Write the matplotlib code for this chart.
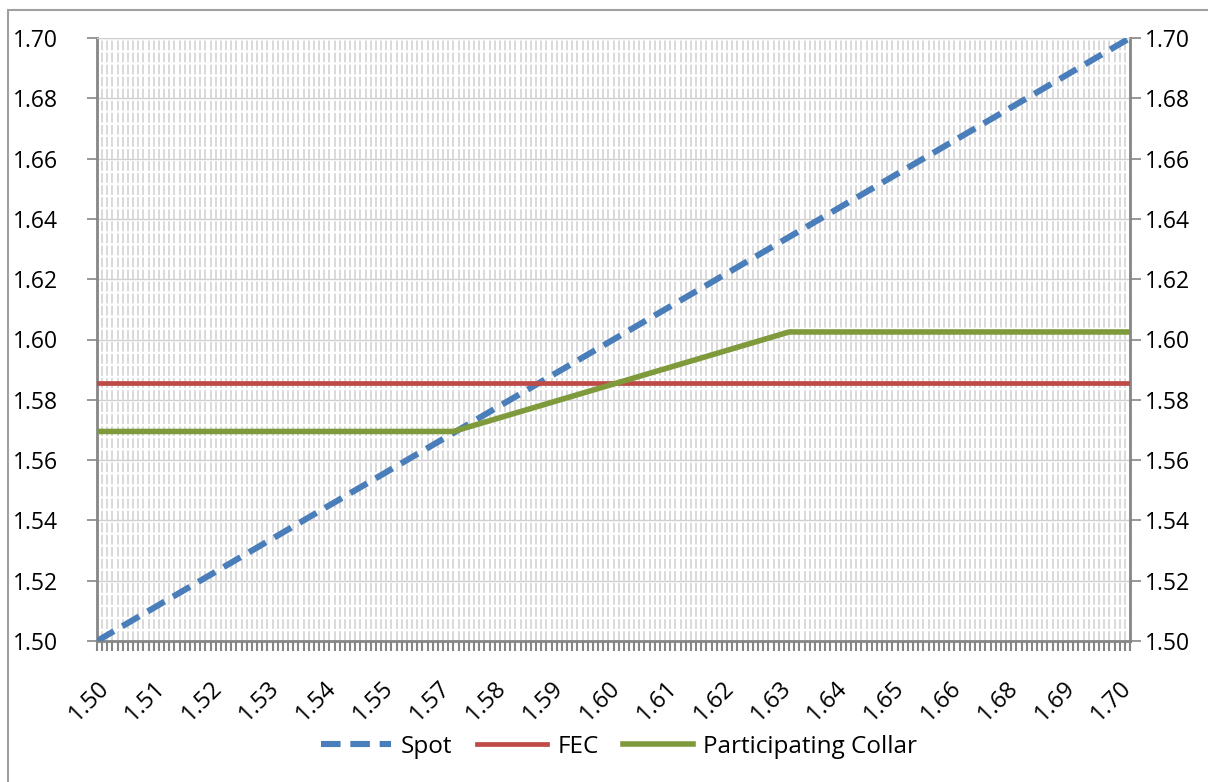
import matplotlib.pyplot as plt
import numpy as np
from matplotlib.patches import Rectangle

# data
categories = np.round(np.arange(1.500, 1.7005, 0.001), 3)  # category axis, step 0.001
spot_x = [1.500, 1.700]
spot_y = [1.500, 1.700]
fec_x = [1.500, 1.700]
fec_y = [1.5855, 1.5855]
collar_x = [1.500, 1.569, 1.634, 1.700]
collar_y = [1.5695, 1.5695, 1.6025, 1.6025]
x_tick_labels = ['1.50', '1.51', '1.52', '1.53', '1.54', '1.55', '1.57', '1.58',
                 '1.59', '1.60', '1.61', '1.62', '1.63', '1.64', '1.65', '1.66',
                 '1.68', '1.69', '1.70']
y_ticks = [1.50, 1.52, 1.54, 1.56, 1.58, 1.60, 1.62, 1.64, 1.66, 1.68, 1.70]

plt.rcParams['font.family'] = ['Open Sans', 'DejaVu Sans']

fig = plt.figure(figsize=(12.08, 7.82), dpi=100)
ax = fig.add_axes([97 / 1208, 1 - 641 / 782, 1033 / 1208, 603 / 782])

# outer chart border
fig.patches.append(Rectangle((8 / 1208, -0.05), 1.1, 1 - 10 / 782 + 0.05,
                             transform=fig.transFigure, fill=False,
                             edgecolor='#a0a0a0', linewidth=1.5))

# dense category gridlines
for c in categories:
    ax.axvline(c, color='#d9d9d9', linewidth=1.4, dashes=(5, 1.2), zorder=0)
for yv in y_ticks:
    ax.axhline(yv, color='#d0d0d0', linewidth=1.0, zorder=0.5)

ax.plot(spot_x, spot_y, color='#4a7ebb', linewidth=4.4, dashes=(3.2, 1.6),
        label='Spot', zorder=3)
ax.plot(fec_x, fec_y, color='#be4b48', linewidth=3.4, label='FEC', zorder=3)
ax.plot(collar_x, collar_y, color='#7f9a3a', linewidth=4.0,
        label='Participating Collar', zorder=4)

ax.set_xlim(1.500, 1.700)
ax.set_ylim(1.50, 1.70)

tick_pos = categories[::11][:len(x_tick_labels)]
ax.set_xticks(tick_pos)
ax.set_xticklabels(x_tick_labels, rotation=45, ha='right',
                   rotation_mode='anchor', fontsize=17)
ax.set_xticks(categories, minor=True)
ax.tick_params(axis='x', which='both', direction='out', length=7,
               width=1.5, color='#868686', pad=18)

ax.set_yticks(y_ticks)
ax.set_yticklabels([f'{v:.2f}' for v in y_ticks], fontsize=16.5)
ax.tick_params(axis='y', direction='out', length=7, width=1.2,
               color='#868686', pad=21)

for side in ('left', 'bottom', 'right'):
    ax.spines[side].set_color('#868686')
    ax.spines[side].set_linewidth(2)
ax.spines['top'].set_color('#d0d0d0')

ax2 = ax.twinx()
ax2.set_ylim(1.50, 1.70)
ax2.set_yticks(y_ticks)
ax2.set_yticklabels([f'{v:.2f}' for v in y_ticks], fontsize=16.5)
ax2.tick_params(axis='y', direction='out', length=8, width=1.2,
                color='#868686', pad=3)
for s in ax2.spines.values():
    s.set_visible(False)

handles, labels = ax.get_legend_handles_labels()
fig.legend(handles, labels, loc='center', bbox_to_anchor=(619 / 1208, 1 - 747 / 782),
           ncol=3, frameon=False, fontsize=17.5, handlelength=2.9,
           handletextpad=0.4, columnspacing=1.0)

fig.savefig('out.png', dpi=100)
